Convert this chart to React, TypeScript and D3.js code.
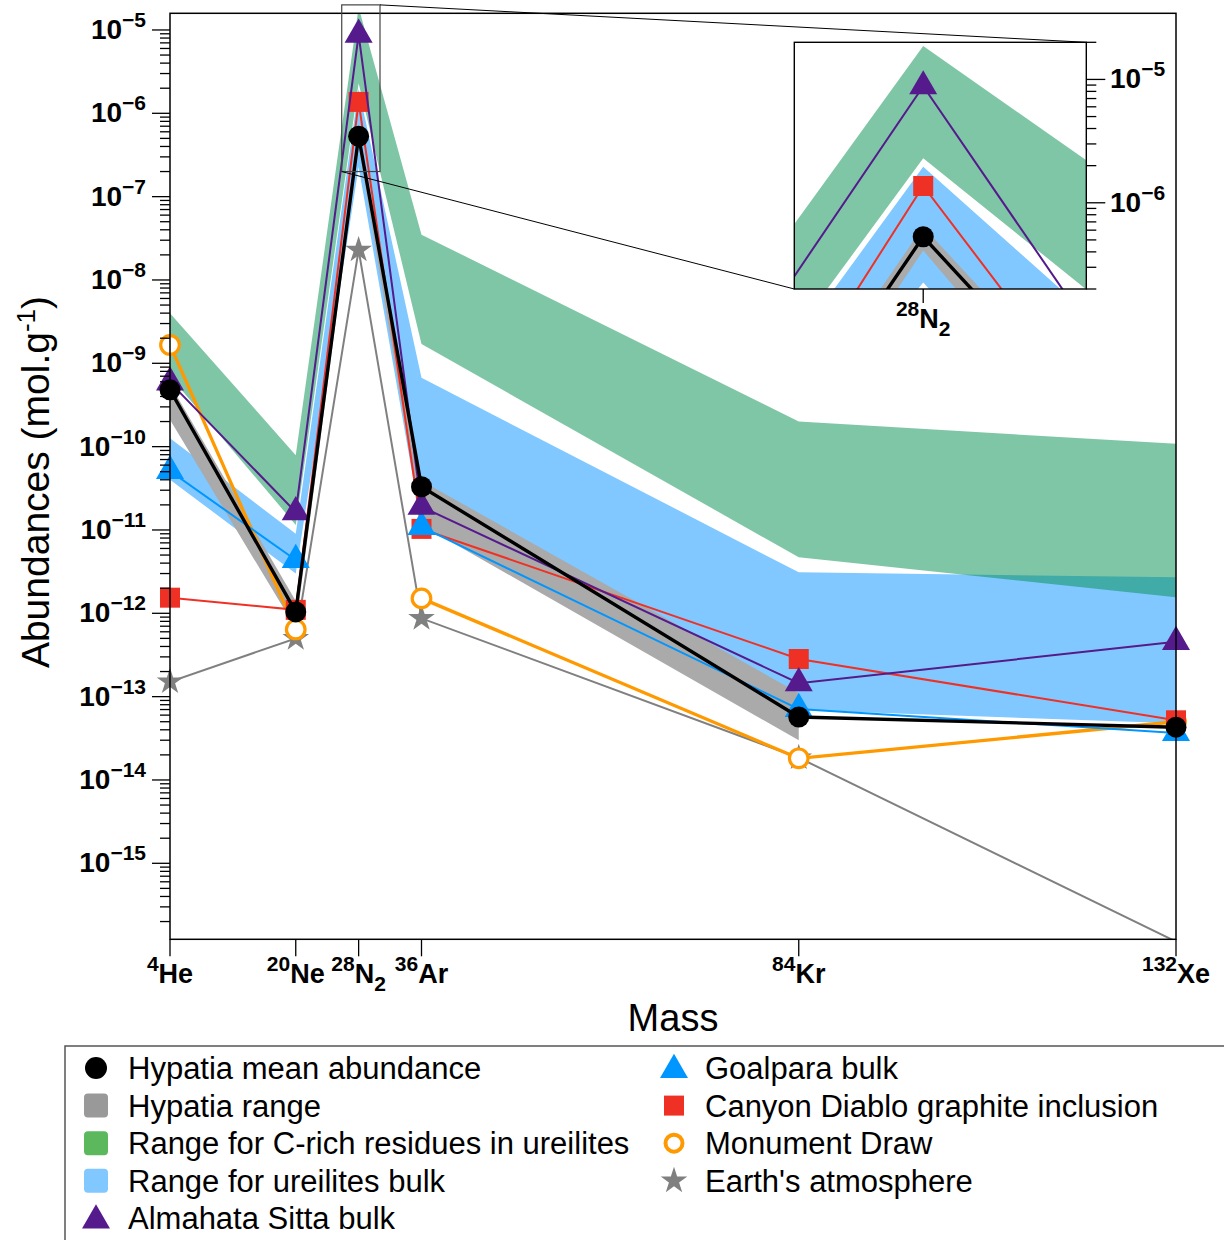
import React from "react";
import * as d3 from "d3";

// isotopes on the x axis
const masses = [4, 20, 28, 36, 84, 132];
const isotopeNumbers = ["4", "20", "28", "36", "84", "132"];
const elementNames = ["He", "Ne", "N", "Ar", "Kr", "Xe"];
const elementSubscripts = ["", "", "2", "", "", ""];

// abundances in mol/g (null = no value)
const hypatiaMean = [4.8e-10, 1.04e-12, 5.3e-7, 3.3e-11, 5.7e-14, 4.3e-14];
const hypatiaLow = [2.1e-10, 6.6e-13, 4.1e-7, 1.15e-11, 3.0e-14, null];
const hypatiaHigh = [5.6e-10, 1.4e-12, 6.4e-7, 3.9e-11, 1.1e-13, null];
const cRichLow = [7.0e-10, 1.15e-11, 2.3e-6, 1.7e-9, 4.7e-12, 1.56e-12];
const cRichHigh = [4.0e-9, 7.9e-11, 1.87e-5, 3.5e-8, 2.0e-10, 1.08e-10];
const bulkLow = [4.0e-11, 3.0e-12, 2.26e-7, 1.1e-11, 6.9e-14, 4.8e-14];
const bulkHigh = [1.26e-10, 9.0e-12, 1.96e-6, 6.7e-10, 3.1e-12, 2.7e-12];
const almahataSitta = [5.9e-10, 1.64e-11, 8.8e-6, 1.9e-11, 1.45e-13, 4.55e-13];
const goalpara = [5.1e-11, 4.36e-12, null, 1.09e-11, 7.1e-14, 3.66e-14];
const canyonDiablo = [1.54e-12, 1.1e-12, 1.37e-6, 1.03e-11, 2.83e-13, 5.2e-14];
const monumentDraw = [1.66e-9, 6.4e-13, null, 1.51e-12, 1.82e-14, 5.0e-14];
const earthAtmosphere = [1.51e-13, 5.0e-13, 2.29e-8, 8.7e-13, 1.85e-14, 1.15e-16];

const FONT = "'Liberation Sans', Arial, Helvetica, sans-serif";

const series = [
  { label: "Earth's atmosphere", values: earthAtmosphere, color: "#808080", width: 2, marker: "star" },
  { label: "Monument Draw", values: monumentDraw, color: "#ff9900", width: 3.3, marker: "open" },
  { label: "Canyon Diablo graphite inclusion", values: canyonDiablo, color: "#ee3124", width: 2, marker: "square" },
  { label: "Goalpara bulk", values: goalpara, color: "#0096ff", width: 2, marker: "triangle" },
  { label: "Almahata Sitta bulk", values: almahataSitta, color: "#551a8b", width: 2, marker: "triangle" },
  { label: "Hypatia mean abundance", values: hypatiaMean, color: "#000000", width: 3.4, marker: "circle" },
];

const bands = [
  { label: "Range for ureilites bulk", low: bulkLow, high: bulkHigh, fill: "#80c8ff", opacity: 1, swatch: "#80c8ff" },
  { label: "Hypatia range", low: hypatiaLow, high: hypatiaHigh, fill: "#aaaaaa", opacity: 1, swatch: "#999999" },
  { label: "Range for C-rich residues in ureilites", low: cRichLow, high: cRichHigh, fill: "rgb(0,141,79)", opacity: 0.5, swatch: "#5cb85c" },
];

const triPath = d3.symbol(d3.symbolTriangle, 339)() as string;
const starPath = d3.symbol(d3.symbolStar, 220)() as string;
const squarePath = d3.symbol(d3.symbolSquare, 400)() as string;

function Marker({ kind, x, y, color }: any) {
  const t = `translate(${x},${y})`;
  if (kind === "star") return <path d={starPath} transform={t} fill={color} />;
  if (kind === "triangle") return <path d={triPath} transform={t} fill={color} />;
  if (kind === "square") return <path d={squarePath} transform={t} fill={color} />;
  if (kind === "open") return <circle cx={x} cy={y} r={9.3} fill="#fff" stroke={color} strokeWidth={3.2} />;
  return <circle cx={x} cy={y} r={10.5} fill={color} />;
}

function PlotLayer({ xs, ys, clipId, clipMarkers }: any) {
  const [y0, y1] = ys.domain();
  const inDomain = (v: number) => v >= y0 && v <= y1;
  const idx = masses.map((_, i) => i);
  return (
    <g>
      <g clipPath={`url(#${clipId})`}>
        {bands.map((b, bi) => {
          const area = d3
            .area<number>()
            .defined((i) => b.low[i] != null && b.high[i] != null)
            .x((i) => xs(masses[i]))
            .y0((i) => ys(b.low[i] as number))
            .y1((i) => ys(b.high[i] as number));
          return <path key={bi} d={area(idx) as string} fill={b.fill} fillOpacity={b.opacity} />;
        })}
      </g>
      {series.map((s, si) => {
        const line = d3
          .line<number>()
          .defined((i) => s.values[i] != null)
          .x((i) => xs(masses[i]))
          .y((i) => ys(s.values[i] as number));
        return (
          <g key={si}>
            <path
              d={line(idx) as string}
              fill="none"
              stroke={s.color}
              strokeWidth={s.width}
              clipPath={`url(#${clipId})`}
            />
            <g clipPath={clipMarkers ? `url(#${clipId})` : undefined}>
              {s.values.map((v, i) =>
                v != null && inDomain(v) ? (
                  <Marker key={i} kind={s.marker} x={xs(masses[i])} y={ys(v)} color={s.color} />
                ) : null
              )}
            </g>
          </g>
        );
      })}
    </g>
  );
}

function logTicks(domain: number[]) {
  const out: { v: number; major: boolean; exp: number }[] = [];
  for (let e = -17; e <= -4; e++) {
    for (let m = 1; m <= 9; m++) {
      const v = m * Math.pow(10, e);
      if (v >= domain[0] * 0.999 && v <= domain[1] * 1.001) out.push({ v, major: m === 1, exp: e });
    }
  }
  return out;
}

function MassLabel({ i, x, y }: any) {
  return (
    <text x={x} y={y} textAnchor="middle" fontFamily={FONT} fontWeight="bold" fontSize={27}>
      <tspan fontSize={21} dy={-12}>{isotopeNumbers[i]}</tspan>
      <tspan dy={12}>{elementNames[i]}</tspan>
      {elementSubscripts[i] ? <tspan fontSize={21} dy={8}>{elementSubscripts[i]}</tspan> : null}
    </text>
  );
}

export default function App() {
  const W = 1224;
  const H = 1240;
  const plot = { left: 170, right: 1176, top: 13.3, bottom: 939.3 };
  const x = d3.scaleLinear().domain([4, 132]).range([plot.left, plot.right]);
  const y = d3.scaleLog().domain([Math.pow(10, -15.912), Math.pow(10, -4.8)]).range([plot.bottom, plot.top]);

  const inset = { left: 794.3, right: 1086.3, top: 42.3, bottom: 289 };
  const ix = d3.scaleLinear().domain([25.85, 30.72]).range([inset.left, inset.right]);
  const iy = d3.scaleLog().domain([2e-7, 2e-5]).range([inset.bottom, inset.top]);

  const mainTicks = logTicks(y.domain());
  const insetTicks = logTicks(iy.domain());

  const zoomBox = { x0: x(25.85), x1: x(30.72), y0: y(2e-5), y1: y(2e-7) };

  const legendLeft = [
    { kind: "circle", color: "#000", label: "Hypatia mean abundance" },
    { kind: "swatch", color: bands[1].swatch, label: "Hypatia range" },
    { kind: "swatch", color: bands[2].swatch, label: "Range for C-rich residues in ureilites" },
    { kind: "swatch", color: bands[0].swatch, label: "Range for ureilites bulk" },
    { kind: "triangle", color: series[4].color, label: series[4].label },
  ];
  const legendRight = [
    { kind: "triangle", color: series[3].color, label: series[3].label },
    { kind: "square", color: series[2].color, label: series[2].label },
    { kind: "open", color: series[1].color, label: series[1].label },
    { kind: "star", color: series[0].color, label: series[0].label },
  ];

  const legendRow = (item: any, i: number, mx: number, tx: number) => {
    const cy = 1068 + i * 37.6;
    return (
      <g key={item.label}>
        {item.kind === "swatch" ? (
          <rect x={mx - 12} y={cy - 12} width={24} height={24} rx={4} fill={item.color} />
        ) : item.kind === "circle" ? (
          <circle cx={mx} cy={cy} r={11} fill={item.color} />
        ) : item.kind === "open" ? (
          <circle cx={mx} cy={cy} r={8.5} fill="#fff" stroke={item.color} strokeWidth={4} />
        ) : (
          <Marker kind={item.kind} x={mx} y={cy + (item.kind === "triangle" ? 2 : 0)} color={item.color} />
        )}
        <text x={tx} y={cy + 11} fontFamily={FONT} fontSize={31}>
          {item.label}
        </text>
      </g>
    );
  };

  return (
    <div>
      <style>{"body{margin:0}"}</style>
      <svg width={W} height={H} style={{ display: "block", background: "#fff" }}>
        <defs>
          <clipPath id="main-clip">
            <rect x={plot.left} y={plot.top} width={plot.right - plot.left} height={plot.bottom - plot.top} />
          </clipPath>
          <clipPath id="inset-clip">
            <rect x={inset.left} y={inset.top} width={inset.right - inset.left} height={inset.bottom - inset.top} />
          </clipPath>
        </defs>

        <PlotLayer xs={x} ys={y} clipId="main-clip" clipMarkers={false} />

        {/* frame */}
        <rect
          x={plot.left}
          y={plot.top}
          width={plot.right - plot.left}
          height={plot.bottom - plot.top}
          fill="none"
          stroke="#000"
          strokeWidth={1.5}
        />

        {/* y axis ticks */}
        {mainTicks.map((t, i) => (
          <line
            key={i}
            x1={plot.left - (t.major ? 18 : 10)}
            x2={plot.left}
            y1={y(t.v)}
            y2={y(t.v)}
            stroke="#000"
            strokeWidth={1.3}
          />
        ))}
        {mainTicks
          .filter((t) => t.major)
          .map((t) => (
            <text
              key={t.exp}
              x={146}
              y={y(t.v) + 9}
              textAnchor="end"
              fontFamily={FONT}
              fontWeight="bold"
              fontSize={28}
            >
              10
              <tspan dy={-12} fontSize={21}>
                {"\u2212" + Math.abs(t.exp)}
              </tspan>
            </text>
          ))}

        {/* x axis */}
        {masses.map((m, i) => (
          <g key={m}>
            <line x1={x(m)} x2={x(m)} y1={plot.bottom} y2={plot.bottom + 17} stroke="#000" strokeWidth={1.3} />
            <MassLabel i={i} x={x(m)} y={983} />
          </g>
        ))}

        <text x={673} y={1031} textAnchor="middle" fontFamily={FONT} fontSize={38}>
          Mass
        </text>
        <text transform="translate(49,482) rotate(-90)" textAnchor="middle" fontFamily={FONT} fontSize={39}>
          Abundances (mol.g
          <tspan dy={-14} fontSize={26}>-1</tspan>
          <tspan dy={14}>)</tspan>
        </text>

        {/* zoom indicator and connectors */}
        <rect
          x={zoomBox.x0}
          y={zoomBox.y0}
          width={zoomBox.x1 - zoomBox.x0}
          height={zoomBox.y1 - zoomBox.y0}
          fill="none"
          stroke="#444"
          strokeWidth={1.2}
        />
        <line x1={zoomBox.x1} y1={zoomBox.y0} x2={inset.right} y2={inset.top} stroke="#000" strokeWidth={1} />
        <line x1={zoomBox.x0} y1={zoomBox.y1} x2={inset.left} y2={inset.bottom} stroke="#000" strokeWidth={1} />

        {/* inset */}
        <rect
          x={inset.left}
          y={inset.top}
          width={inset.right - inset.left}
          height={inset.bottom - inset.top}
          fill="#fff"
        />
        <PlotLayer xs={ix} ys={iy} clipId="inset-clip" clipMarkers={true} />
        <rect
          x={inset.left}
          y={inset.top}
          width={inset.right - inset.left}
          height={inset.bottom - inset.top}
          fill="none"
          stroke="#000"
          strokeWidth={1.4}
        />
        {insetTicks.map((t, i) => (
          <line
            key={i}
            x1={inset.right}
            x2={inset.right + (t.major ? 19 : 10)}
            y1={iy(t.v)}
            y2={iy(t.v)}
            stroke="#000"
            strokeWidth={1.3}
          />
        ))}
        {insetTicks
          .filter((t) => t.major)
          .map((t) => (
            <text key={t.exp} x={1110} y={iy(t.v) + 9} fontFamily={FONT} fontWeight="bold" fontSize={28}>
              10
              <tspan dy={-12} fontSize={21}>
                {"\u2212" + Math.abs(t.exp)}
              </tspan>
            </text>
          ))}
        <line x1={ix(28)} x2={ix(28)} y1={inset.bottom} y2={inset.bottom + 14} stroke="#000" strokeWidth={1.3} />
        <MassLabel i={2} x={ix(28)} y={328} />

        {/* legend */}
        <rect x={65} y={1046} width={1300} height={300} fill="#fff" stroke="#555" strokeWidth={1.5} />
        {legendLeft.map((item, i) => legendRow(item, i, 96, 128))}
        {legendRight.map((item, i) => legendRow(item, i, 674, 705))}
      </svg>
    </div>
  );
}
